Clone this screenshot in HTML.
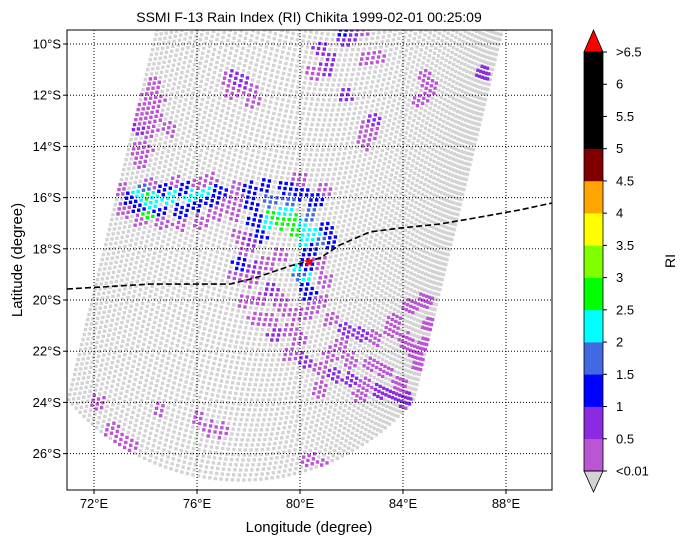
<!DOCTYPE html>
<html><head><meta charset="utf-8">
<style>
html,body{margin:0;padding:0;background:#fff;}
svg{display:block;font-family:"Liberation Sans","DejaVu Sans",sans-serif;}
</style></head>
<body>
<svg id="chart" width="687" height="545" viewBox="0 0 687 545" xmlns="http://www.w3.org/2000/svg">
<defs><clipPath id="clip"><rect x="67" y="30" width="485" height="460"/></clipPath></defs>
<text x="309" y="22" font-size="14" text-anchor="middle">SSMI F-13 Rain Index (RI) Chikita 1999-02-01 00:25:09</text>
<g id="swath" clip-path="url(#clip)"></g>
<g id="grid"></g>
<g id="track" clip-path="url(#clip)"></g>
<rect x="67" y="30" width="485" height="460" fill="none" stroke="#000" stroke-width="1"/>
<g id="ticks"></g>
<text x="309" y="532" font-size="15" text-anchor="middle">Longitude (degree)</text>
<text transform="translate(22,260) rotate(-90)" font-size="15" text-anchor="middle">Latitude (degree)</text>
<g id="cbar"></g>
<text transform="translate(675,261) rotate(-90)" font-size="14" text-anchor="middle">RI</text>
</svg>
<script>
const NS="http://www.w3.org/2000/svg";
const lonTicks=[72,76,80,84,88];
const latTicks=[10,12,14,16,18,20,22,24,26];
const cbLevels=["<0.01","0.5","1","1.5","2","2.5","3","3.5","4","4.5","5","5.5","6",">6.5"];
const cbColors=["#ba55d3","#8a2be2","#0000ff","#4169e1","#00ffff","#00ff00","#7fff00","#ffff00","#ffa500","#800000","#000000","#000000","#000000"];
const rainLon=[73.01,73.20,73.79,74.56,75.34,76.12,76.70,77.28,77.48,74.17,75.15,76.12,76.50,
73.40,73.79,74.56,75.34,75.92,76.50,76.89,75.53,74.76,73.98,
73.79,74.37,74.95,75.73,76.31,74.17,74.02,74.06,
78.06,78.64,79.42,80.00,80.58,78.06,78.25,80.97,81.17,80.39,80.19,80.19,80.39,78.45,77.67,
78.83,79.61,80.39,80.78,80.00,
78.76,79.42,80.00,80.58,80.19,80.19,80.00,
78.83,79.34,79.81,79.61,
77.67,77.48,77.59,77.86,77.48,78.06,78.64,79.22,78.45,79.22,77.86,78.83,79.61,80.78,80.97,80.78,80.97,77.48,80.00,79.42,81.17,
78.25,78.83,79.03,
81.75,82.33,82.91,81.55,83.50,79.61,80.19,80.78,81.36,81.94,82.52,83.11,83.69,84.08,84.27,80.78,82.33,83.88,84.08,84.47,84.85,84.66,85.05,84.27,84.85,83.69,82.72,80.00,
72.12,74.56,76.04,76.50,76.89,72.70,73.01,73.48,80.39,80.97,
74.29,74.17,74.45,73.98,74.37,73.79,73.71,74.17,73.67,73.98,73.79,74.95,
77.20,77.48,77.86,78.06,77.36,78.17,80.78,81.17,80.97,80.58,81.75,81.75,82.14,82.41,82.60,82.99,81.75,
82.52,82.91,82.72,82.52,84.85,85.05,84.66,87.07,
80.00,78.25,80.39,81.17,81.94,83.30,78.06];
const rainLat=[-15.70,-16.48,-16.88,-16.95,-17.07,-16.95,-16.68,-16.29,-15.90,-15.51,-15.43,-15.55,-15.31,
-16.09,-16.48,-16.60,-16.56,-16.29,-16.09,-15.78,-15.70,-15.70,-15.70,
-15.90,-15.98,-15.98,-15.94,-15.82,-16.29,-15.86,-16.56,
-15.70,-15.59,-15.63,-15.78,-16.09,-16.29,-16.88,-17.27,-17.66,-18.05,-18.63,-19.41,-19.80,-17.46,-18.63,
-16.09,-16.09,-16.68,-17.66,-19.02,
-16.88,-16.60,-17.07,-17.46,-17.66,-19.22,-18.83,
-16.68,-16.95,-17.27,-16.88,
-16.09,-16.68,-17.46,-18.05,-19.02,-19.22,-18.63,-18.24,-20.00,-20.00,-20.00,-20.78,-21.17,-20.00,-19.22,-18.52,-15.70,-15.70,-15.31,-20.39,-20.78,
-18.83,-19.61,-21.37,
-21.17,-21.37,-21.48,-21.76,-21.17,-22.15,-22.34,-22.73,-22.93,-23.13,-23.32,-23.52,-23.71,-23.91,-24.30,-23.52,-23.71,-23.32,-21.56,-21.95,-21.76,-22.54,-20.98,-20.20,-20.00,-20.78,-22.54,-21.56,
-23.98,-24.22,-24.61,-25.00,-25.08,-25.08,-25.39,-25.66,-26.25,-26.56,
-11.60,-11.99,-12.19,-12.58,-12.77,-12.97,-13.28,-13.36,-14.14,-14.14,-14.53,-13.36,
-11.41,-11.33,-11.60,-11.80,-11.88,-12.19,-10.23,-10.55,-11.02,-11.09,-9.57,-9.84,-9.53,-9.45,-10.63,-10.51,-11.99,
-13.28,-12.97,-13.44,-13.83,-11.33,-11.72,-12.19,-11.13,
-20.59,-20.78,-20.39,-22.15,-22.34,-22.73,-17.66];
const rainRI=[0.3,0.3,0.3,0.3,0.3,0.3,0.3,0.3,0.3,0.3,0.3,0.3,0.3,
1.2,1.2,1.2,1.2,1.2,1.2,1.2,1.2,1.2,1.7,
2.2,2.2,2.2,2.2,2.2,2.2,2.7,2.7,
1.2,1.2,1.2,1.2,1.2,1.2,1.2,1.2,1.2,1.2,1.2,1.2,1.2,1.2,1.2,
1.7,1.7,1.7,1.7,1.7,
2.2,2.2,2.2,2.2,2.2,2.2,2.2,
2.7,2.7,2.7,2.7,
0.3,0.3,0.3,0.3,0.3,0.3,0.3,0.3,0.3,0.3,0.3,0.3,0.3,0.3,0.3,0.3,0.3,0.3,0.3,0.3,0.3,
0.7,0.7,0.7,
0.7,0.7,0.3,0.3,0.3,0.3,0.7,0.3,0.7,0.7,0.3,0.7,0.7,0.7,0.3,0.3,0.3,0.3,0.3,0.3,0.3,0.3,0.3,0.3,0.3,0.3,0.3,0.3,
0.3,0.3,0.3,0.3,0.3,0.3,0.3,0.3,0.3,0.3,
0.3,0.3,0.3,0.3,0.3,0.3,0.7,0.3,0.3,0.3,0.3,0.3,
0.3,0.7,0.7,0.3,0.3,0.3,0.7,0.7,0.7,0.3,1.2,0.7,0.7,0.3,0.3,0.3,0.7,
0.3,0.7,0.3,0.3,0.3,0.3,0.3,0.7,
0.3,0.3,0.3,0.3,0.3,0.3,0.7];
const trackLon=[70.95,74.17,77.28,78.25,79.61,80.78,81.55,82.72,83.88,85.44,86.99,88.54,89.79];
const trackLat=[-19.57,-19.38,-19.38,-19.14,-18.67,-18.36,-17.85,-17.34,-17.19,-17.03,-16.76,-16.48,-16.21];
const stormLon=80.35, stormLat=-18.52;

const X=lon=>94+(lon-72)*25.75;
const Y=lat=>44+(-lat-10)*25.6;
const LON=x=>72+(x-94)/25.75;
const LAT=y=>-(10+(y-44)/25.6);
function colorFor(v){const b=[0.01,0.5,1,1.5,2,2.5,3,3.5,4,4.5,5,5.5,6,6.5];for(let i=0;i<13;i++){if(v<b[i+1])return cbColors[i];}return "#ff0000";}
function mk(tag,attrs,parent){const e=document.createElementNS(NS,tag);for(const k in attrs)e.setAttribute(k,attrs[k]);parent.appendChild(e);return e;}

// swath
const sw=document.getElementById('swath');
const R=225, amax=50*Math.PI/180, nScan=98, nPix=70, step=5.0, slope=0.24;
for(let s=0;s<nScan;s++){
  const cy=255-s*step, cx=241+s*step*slope;
  for(let p=0;p<nPix;p++){
    const a=-amax+2*amax*p/(nPix-1);
    const px=cx+R*Math.sin(a), py=cy+R*Math.cos(a);
    if(py<24||py>496||px<60||px>560)continue;
    const lo=LON(px), la=LAT(py);
    let best=-1,bd=0.32*0.32;
    for(let i=0;i<rainLon.length;i++){const dx=rainLon[i]-lo,dy=rainLat[i]-la;const d=dx*dx+dy*dy;if(d<bd){bd=d;best=i;}}
    const r=mk('rect',{x:(px-1.7).toFixed(1),y:(py-1.7).toFixed(1),width:3.4,height:3.4,fill:best>=0?colorFor(rainRI[best]):'#d3d3d3'},sw);
    if(best>=0){
      
      
    }
  }
}
// grid + ticks
const gr=document.getElementById('grid'), tk=document.getElementById('ticks');
lonTicks.forEach(l=>{
  const x=X(l);
  const g=mk('line',{x1:x,x2:x,y1:30,y2:490,stroke:'#000','stroke-width':1,'stroke-dasharray':'1,2'},gr);
  
  
  mk('line',{x1:x,x2:x,y1:490,y2:494,stroke:'#000'},tk);
  const t=mk('text',{x:x,y:508,'font-size':13,'text-anchor':'middle'},tk);
  t.textContent=l+'°E';
  
  
});
latTicks.forEach(l=>{
  const y=Y(-l);
  const g=mk('line',{x1:67,x2:552,y1:y,y2:y,stroke:'#000','stroke-width':1,'stroke-dasharray':'1,2'},gr);
  
  
  mk('line',{x1:63,x2:67,y1:y,y2:y,stroke:'#000'},tk);
  const t=mk('text',{x:61,y:y+4.5,'font-size':13,'text-anchor':'end'},tk);
  t.textContent=l+'°S';
  
  
});
// track
const tr=document.getElementById('track');
const pl=mk('polyline',{points:trackLon.map((l,i)=>X(l).toFixed(1)+','+Y(trackLat[i]).toFixed(1)).join(' '),fill:'none',stroke:'#000','stroke-width':1.6,'stroke-dasharray':'6,3'},tr);


const sx=X(stormLon), sy=Y(stormLat);
let pts=[];for(let i=0;i<10;i++){const rr=i%2?2.3:5.5;const a=-Math.PI/2+i*Math.PI/5;pts.push((sx+rr*Math.cos(a)).toFixed(1)+','+(sy+rr*Math.sin(a)).toFixed(1));}
const st=mk('polygon',{points:pts.join(' '),fill:'#ff0000'},tr);


// colorbar
const cb=document.getElementById('cbar');
const cx0=584,cw=19,ctop=52,cbot=471,ch=(cbot-ctop)/13;
cbColors.forEach((c,i)=>{
  const r=mk('rect',{x:cx0,y:(cbot-(i+1)*ch).toFixed(2),width:cw,height:(ch+0.3).toFixed(2),fill:c},cb);
  
  
});
const tu=mk('polygon',{points:`${cx0},${ctop} ${cx0+cw},${ctop} ${cx0+cw/2},30`,fill:'#ff0000',stroke:'#000','stroke-width':0.8},cb);


const td=mk('polygon',{points:`${cx0},${cbot} ${cx0+cw},${cbot} ${cx0+cw/2},492`,fill:'#d3d3d3',stroke:'#000','stroke-width':0.8},cb);


mk('rect',{x:cx0,y:ctop,width:cw,height:cbot-ctop,fill:'none',stroke:'#000','stroke-width':0.8},cb);
cbLevels.forEach((t,i)=>{
  const y=cbot-i*ch;
  mk('line',{x1:cx0+cw,x2:cx0+cw+4,y1:y,y2:y,stroke:'#000'},cb);
  const e=mk('text',{x:cx0+cw+13,y:y+4.5,'font-size':13},cb);
  e.textContent=t;
  
  
});
</script>
</body></html>
